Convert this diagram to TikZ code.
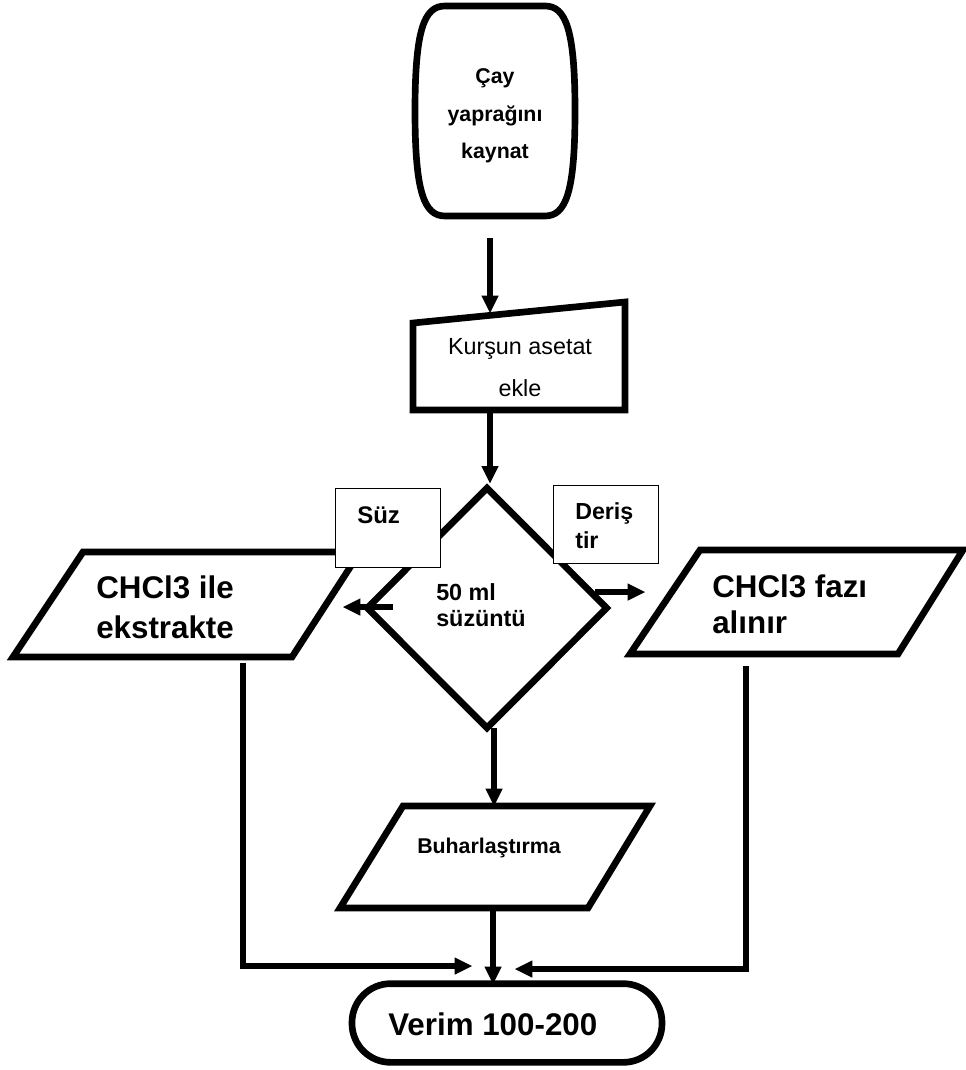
\documentclass[tikz,border=0pt]{standalone}
\usepackage{fontspec}
\setmainfont{Liberation Sans}
\usetikzlibrary{arrows.meta,shapes.geometric}
\tikzset{
  shp/.style={line width=5pt, line join=miter},
  arr/.style={line width=5pt, -{Triangle[length=13pt,width=13pt,line width=0pt]}},
  lbl/.style={draw, fill=white, line width=1pt, inner sep=0pt},
  bld/.style={font=\fontsize{#1}{#1}\bfseries\selectfont, inner sep=0pt},
}
\begin{document}
\begin{tikzpicture}[x=0.75pt,y=-0.75pt]
\useasboundingbox (0,0) rectangle (966,1070);
\draw[shp] (445,6) -- (545,6) .. controls (566,6) and (575,30) .. (575,111) .. controls (575,192) and (566,216) .. (545,216) -- (445,216) .. controls (424,216) and (415,192) .. (415,111) .. controls (415,30) and (424,6) .. (445,6) -- cycle;
\node[font=\fontsize{16}{28}\bfseries\selectfont, align=center, inner sep=0pt] (kaynat) at (495,116) {Çay\\yaprağını\\kaynat};
\coordinate (kaynatout) at (490,238);
\coordinate (asetatin) at (490,313);
\draw[arr] (kaynatout) -- (asetatin);

\draw[shp] (413,323) -- (625,302) -- (625,410) -- (413,410) -- cycle;
\node[font=\fontsize{17.5}{31.5}\selectfont, align=center, inner sep=0pt] (asetat) at (520,368) {Kurşun asetat\\ekle};
\coordinate (asetatout) at (490,410);

\node[draw, diamond, shp, minimum width=181.5pt, minimum height=182pt, inner sep=0pt] (suzuntu) at (487,608) {};
\draw[arr] (asetatout) -- (asetatout |- suzuntu.north);
\node[font=\fontsize{17.5}{20}\bfseries\selectfont, align=left, inner sep=0pt, anchor=west] (ml) at (436,605) {50 ml\\süzüntü};

\coordinate (solcik) at (393,607);
\coordinate (solvar) at (343,607);
\draw[arr] (solcik) -- (solvar);
\coordinate (sagcik) at (595,592);
\coordinate (sagvar) at (645,592);
\draw[arr] (sagcik) -- (sagvar);

\draw[shp] (83,552) -- (360,552) -- (292,657) -- (13,657) -- cycle;
\node[font=\fontsize{23.5}{30}\bfseries\selectfont, align=left, inner sep=0pt, anchor=west] (ekstrakte) at (96,607) {CHCl3 ile\\ekstrakte};
\draw[shp] (700,550) -- (963,550) -- (898,654) -- (630,654) -- cycle;
\node[font=\fontsize{23.5}{27}\bfseries\selectfont, align=left, inner sep=0pt, anchor=west] (faz) at (712,604) {CHCl3 fazı\\alınır};

\node[lbl, anchor=north west, minimum width=78.75pt, minimum height=59.25pt] (suzkutu) at (335,488) {};
\node[bld=18, anchor=base west] (suz) at (357,523) {Süz};
\node[lbl, anchor=north west, minimum width=78.75pt, minimum height=58.5pt] (deriskutu) at (553,485) {};
\node[font=\fontsize{17.4}{22}\bfseries\selectfont, align=left, inner sep=0pt, anchor=west] (deris) at (575,526) {Deriş\\tir};

\coordinate (suzuntuout) at (494,728);
\coordinate (buharin) at (494,806);
\draw[arr] (suzuntuout) -- (buharin);
\draw[shp] (403,806) -- (650,806) -- (588,908) -- (340,908) -- cycle;
\node[bld=16, anchor=base west] (buhar) at (417,853) {Buharlaştırma};

\node[draw, shp, rounded corners=29pt, minimum width=232.5pt, minimum height=59pt] (verim) at (507,1023) {};
\node[bld=23.5, anchor=base west] (verimyazi) at (388,1035) {Verim 100-200};

\coordinate (buharout) at (493,908);
\coordinate (verimin) at (493,984);
\draw[arr] (buharout) -- (verimin);
\coordinate (ekstrakteout) at (243,663);
\coordinate (solgiris) at (472,966);
\draw[arr] (ekstrakteout) |- (solgiris);
\coordinate (fazout) at (746,666);
\coordinate (saggiris) at (515,969);
\draw[arr] (fazout) |- (saggiris);
\end{tikzpicture}
\end{document}
